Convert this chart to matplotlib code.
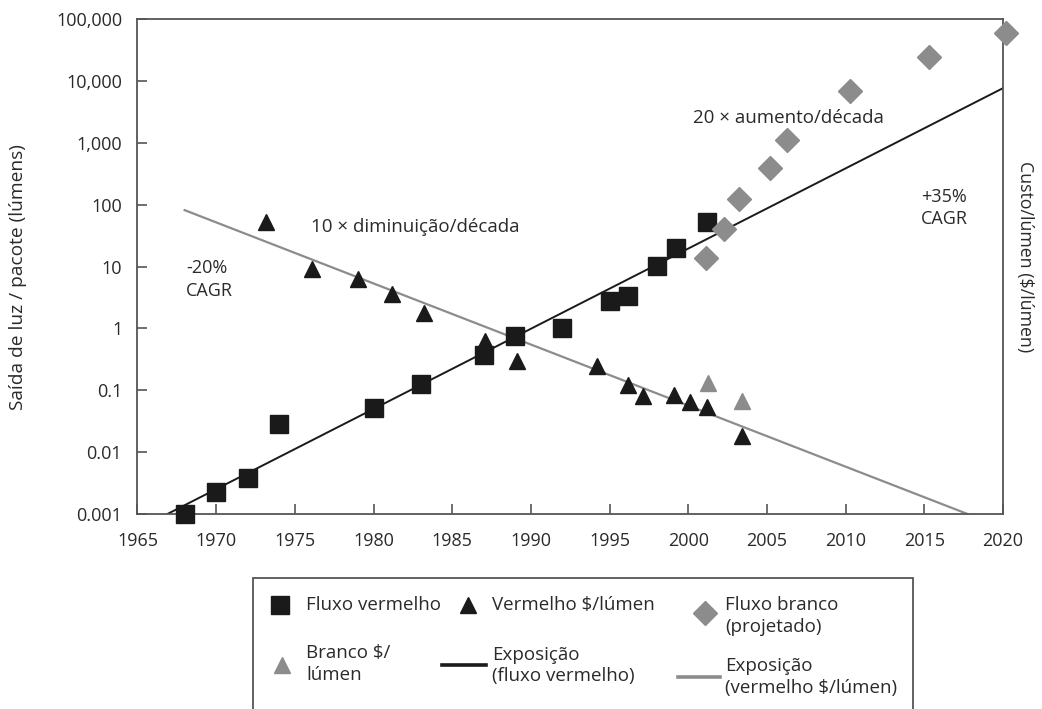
import numpy as np
import matplotlib
matplotlib.use("Agg")
import matplotlib.pyplot as plt
from matplotlib.lines import Line2D
from matplotlib.patches import Rectangle

plt.rcParams['font.family'] = ['Open Sans', 'DejaVu Sans']

# Fluxo vermelho (squares)
red_flux_years = [1968, 1970, 1972, 1974, 1980, 1983, 1987, 1989, 1992, 1995, 1996.2, 1998, 1999.2, 2001.2]
red_flux_vals = [0.001, 0.0023, 0.0038, 0.029, 0.051, 0.126, 0.37, 0.76, 1.0, 2.8, 3.4, 10.2, 20, 52]

# Vermelho $/lumen (black triangles)
red_cost_years = [1973.2, 1976.1, 1979, 1981.2, 1983.2, 1987.1, 1989.1, 1994.2, 1996.2, 1997.1, 1999.1, 2000.1, 2001.2, 2003.4]
red_cost_vals = [52, 9, 6.2, 3.6, 1.8, 0.63, 0.30, 0.25, 0.12, 0.082, 0.083, 0.065, 0.054, 0.018]

# Branco $/lumen (gray triangles)
white_cost_years = [2001.25, 2003.4]
white_cost_vals = [0.13, 0.068]

# Fluxo branco projetado (gray diamonds)
white_flux_years = [2001.1, 2002.3, 2003.2, 2005.2, 2006.25, 2010.25, 2015.3, 2020.2]
white_flux_vals = [14, 41, 122, 395, 1130, 6980, 24400, 59500]

# trend lines (end points)
red_flux_fit_years = [1966.9, 2020]
red_flux_fit_vals = [0.001, 7700]
red_cost_fit_years = [1968, 2017.75]
red_cost_fit_vals = [82, 0.001]

yticks = [0.001, 0.01, 0.1, 1, 10, 100, 1000, 10000, 100000]
ytick_labels = ['0.001', '0.01', '0.1', '1', '10', '100', '1,000', '10,000', '100,000']
xticks = list(range(1965, 2021, 5))

black = '#1a1a1a'
gray = '#8c8c8c'
txt = '#2a2a2a'
spine = '#555555'
W, H = 1042, 709

fig = plt.figure(figsize=(10.42, 7.09), dpi=100)
ax = fig.add_axes([0.1319, 0.275, 0.8307, 0.6978])

ax.plot(red_flux_fit_years, red_flux_fit_vals, color=black, lw=1.4, zorder=2)
ax.plot(red_cost_fit_years, red_cost_fit_vals, color=gray, lw=1.6, zorder=2)
ax.plot(red_flux_years, red_flux_vals, 's', color=black, ms=13, zorder=3, clip_on=False)
ax.plot(red_cost_years, red_cost_vals, '^', color=black, ms=12, zorder=3, clip_on=False)
ax.plot(white_cost_years, white_cost_vals, '^', color=gray, ms=12, zorder=3, clip_on=False)
ax.plot(white_flux_years, white_flux_vals, 'D', color=gray, ms=12.5, zorder=4, clip_on=False)

ax.set_yscale('log')
ax.set_xlim(1965, 2020)
ax.set_ylim(0.001, 100000)
ax.set_yticks(yticks)
ax.set_yticklabels(ytick_labels)
ax.yaxis.set_minor_locator(matplotlib.ticker.NullLocator())
ax.set_xticks(xticks)
ax.tick_params(direction='in', length=7, width=1.2, color=spine, labelsize=13,
               labelcolor=txt)
ax.tick_params(axis='x', pad=13)
ax.tick_params(axis='y', pad=11)
for s in ax.spines.values():
    s.set_color(spine)
    s.set_linewidth(1.3)

fs = 13.5
ax.text(1976.0, 43, '10 × diminuição/década', fontsize=fs, color=txt, va='center', ha='left')
ax.text(1968.1, 6.2, '-20%\nCAGR', fontsize=13, color=txt, va='center', ha='left', linespacing=1.3)
ax.text(2000.3, 2570, '20 × aumento/década', fontsize=fs, color=txt, va='center', ha='left')
ax.text(2014.8, 90, '+35%\nCAGR', fontsize=13, color=txt, va='center', ha='left', linespacing=1.3)

fig.text(18 / W, 1 - 277 / H, 'Saída de luz / pacote (lúmens)', rotation=90,
         fontsize=13.8, color=txt, ha='center', va='center')
fig.text(1025 / W, 1 - 257 / H, 'Custo/lúmen ($/lúmen)', rotation=-90,
         fontsize=12.8, color=txt, ha='center', va='center')

# legend, laid out by hand (pixel positions of the reference)
leg_items = [
    (dict(marker='s', color=black, ms=13), (280, 605), 'Fluxo vermelho', (306, 605)),
    (dict(marker='^', color=black, ms=12), (468, 605), 'Vermelho $/lúmen', (492, 605)),
    (dict(marker='D', color=gray, ms=12.5), (705, 613), 'Fluxo branco\n(projetado)', (725, 616)),
    (dict(marker='^', color=gray, ms=12), (282, 665), 'Branco $/\nlúmen', (306, 664)),
    (dict(lw=2.6, color=black), ((442, 486), 665), 'Exposição\n(fluxo vermelho)', (492, 665.5)),
    (dict(lw=2.6, color=gray), ((678, 720), 677), 'Exposição\n(vermelho $/lúmen)', (725, 677)),
]
for style, (hx, hy), label, (tx, ty) in leg_items:
    if 'marker' in style:
        xs, ys = [hx / W], [1 - hy / H]
        style = dict(style, ls='none')
    else:
        xs, ys = [hx[0] / W, hx[1] / W], [1 - hy / H] * 2
    fig.add_artist(Line2D(xs, ys, transform=fig.transFigure, **style))
    fig.text(tx / W, 1 - ty / H, label, fontsize=fs, color=txt, ha='left', va='center',
             linespacing=1.25)

fig.patches.append(Rectangle((253 / W, -0.05), (913 - 253) / W, 0.05 + (H - 578) / H,
                             transform=fig.transFigure, fill=False, edgecolor=spine, lw=1.3))

fig.savefig('out.png', dpi=100)
